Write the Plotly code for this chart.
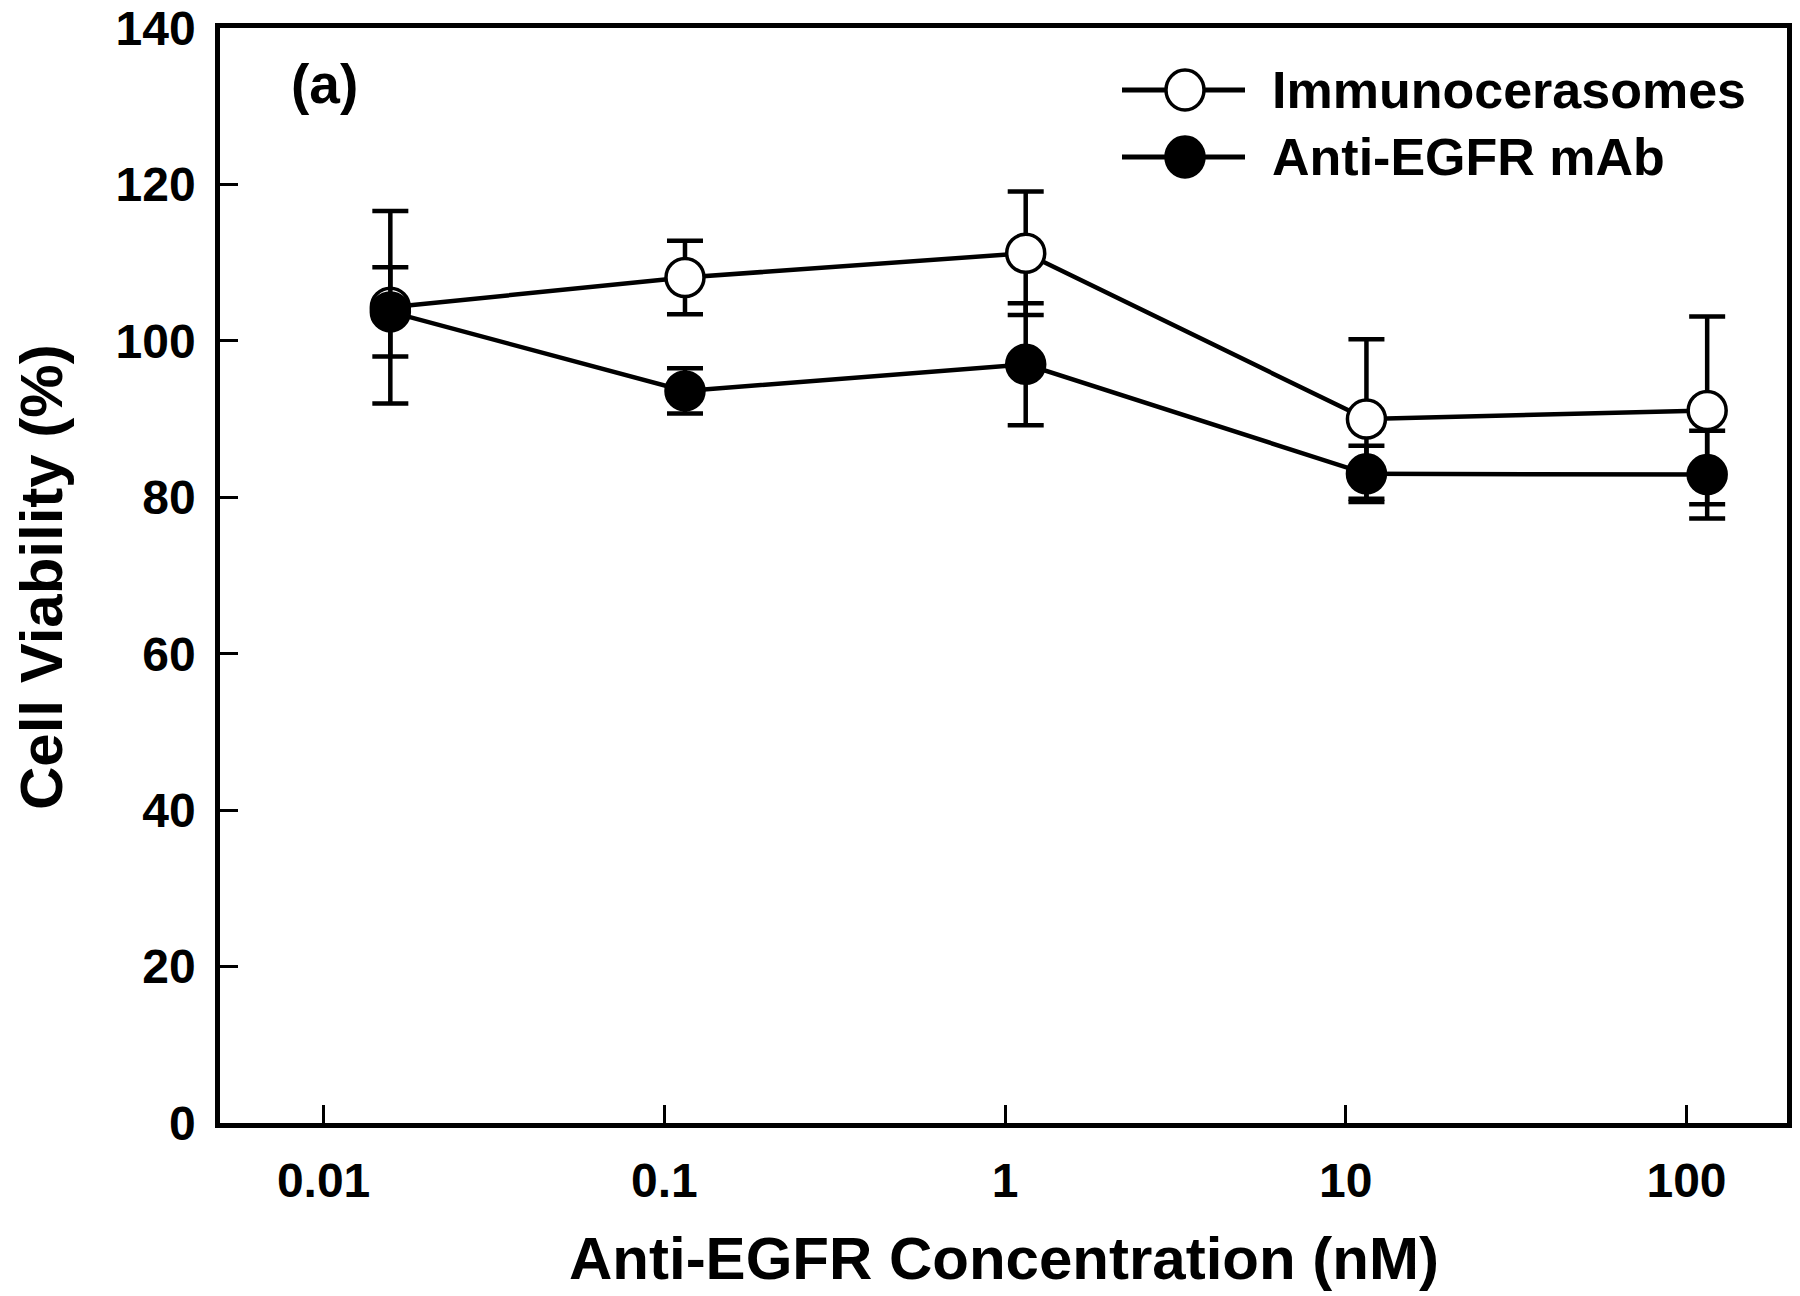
import plotly.graph_objects as go

# ---- data ----
conc_nM = [0.0157, 0.115, 1.15, 11.5, 115]
immuno_mean = [104.3, 108.1, 111.2, 90.0, 91.1]
immuno_sd = [12.3, 4.7, 7.9, 10.2, 12.0]
antibody_mean = [103.7, 93.6, 97.0, 83.0, 82.9]
antibody_sd = [5.7, 2.9, 7.8, 3.6, 5.6]

x_tickvals = [0.01, 0.1, 1, 10, 100]
x_ticktext = ["0.01", "0.1", "1", "10", "100"]
y_tickvals = [0, 20, 40, 60, 80, 100, 120, 140]

series_names = ["Immunocerasomes", "Anti-EGFR mAb"]

FONT = "Arial, Liberation Sans, sans-serif"
W, H = 1800, 1296
# plot-area edges in page pixels
SL, SR, ST, SB = 220, 1787, 28, 1123
L = SL
T = ST
R = W - SR
B = H - SB

fig = go.Figure()

fig.add_trace(go.Scatter(
    x=conc_nM, y=immuno_mean, name=series_names[0], mode="lines+markers",
    line=dict(color="black", width=4.5),
    marker=dict(symbol="circle", size=38, color="white", line=dict(color="black", width=3.5)),
    error_y=dict(type="data", array=immuno_sd, visible=True, color="black", thickness=4.5, width=18),
    showlegend=False,
))
fig.add_trace(go.Scatter(
    x=conc_nM, y=antibody_mean, name=series_names[1], mode="lines+markers",
    line=dict(color="black", width=4.5),
    marker=dict(symbol="circle", size=38, color="black", line=dict(color="black", width=3.5)),
    error_y=dict(type="data", array=antibody_sd, visible=True, color="black", thickness=4.5, width=18),
    showlegend=False,
))

pw = SR - SL
ph = SB - ST

def px_x(p):
    return (p - SL) / pw

def px_y(p):
    return (SB - p) / ph

shapes = []
annotations = []

# custom legend (large glyphs like the reference)
legend_rows = [(90, "white"), (157, "black")]
for (row_y, fill), name in zip(legend_rows, series_names):
    yy = px_y(row_y)
    shapes.append(dict(type="line", xref="paper", yref="paper",
                       x0=px_x(1122), x1=px_x(1245), y0=yy, y1=yy,
                       line=dict(color="black", width=5)))
    shapes.append(dict(type="circle", xref="paper", yref="paper",
                       xsizemode="pixel", ysizemode="pixel",
                       xanchor=px_x(1185), yanchor=yy,
                       x0=-19, x1=19, y0=-20, y1=20,
                       fillcolor=fill, line=dict(color="black", width=3.5)))
    annotations.append(dict(text="<b>%s</b>" % name, xref="paper", yref="paper",
                            x=px_x(1270), y=yy, xanchor="left", yanchor="middle",
                            showarrow=False, font=dict(family=FONT, size=52, color="black")))

annotations.append(dict(text="<b>(a)</b>", xref="paper", yref="paper",
                        x=px_x(289), y=px_y(84), xanchor="left", yanchor="middle",
                        showarrow=False, font=dict(family=FONT, size=55, color="black")))

annotations.append(dict(text="<b>Anti-EGFR Concentration (nM)</b>", xref="paper", yref="paper",
                        x=px_x(1004), y=px_y(1258), xanchor="center", yanchor="middle",
                        showarrow=False, font=dict(family=FONT, size=60, color="black")))
annotations.append(dict(text="<b>Cell Viability (%)</b>", xref="paper", yref="paper",
                        x=px_x(41), y=px_y(577), xanchor="center", yanchor="middle",
                        textangle=-90,
                        showarrow=False, font=dict(family=FONT, size=60, color="black")))

fig.update_layout(
    width=W, height=H,
    margin=dict(l=L, r=R, t=T, b=B),
    paper_bgcolor="white", plot_bgcolor="white",
    font=dict(family=FONT, color="black"),
    shapes=shapes, annotations=annotations,
    showlegend=False,
)

fig.update_xaxes(
    type="log", range=[-2.304, 2.295],
    tickvals=x_tickvals, ticktext=["<b>%s</b>" % t for t in x_ticktext],
    ticks="inside", ticklen=18, tickwidth=3, tickcolor="black",
    showline=True, linewidth=4.5, linecolor="black", mirror=True,
    showgrid=False, zeroline=False, automargin=False,
    tickfont=dict(family=FONT, size=48, color="black"),
    ticklabelstandoff=12, ticklabeloverflow="allow",
)
fig.update_yaxes(
    range=[0, 140],
    tickvals=y_tickvals, ticktext=["<b>%d</b>" % v for v in y_tickvals],
    ticks="inside", ticklen=18, tickwidth=3, tickcolor="black",
    showline=True, linewidth=4.5, linecolor="black", mirror=True,
    showgrid=False, zeroline=False, automargin=False,
    tickfont=dict(family=FONT, size=48, color="black"),
    ticklabelstandoff=10, ticklabeloverflow="allow",
)

fig.write_html(
    "out.html",
    config={"displayModeBar": False},
    post_script="document.body.style.margin='0';document.body.style.overflow='hidden';",
)
